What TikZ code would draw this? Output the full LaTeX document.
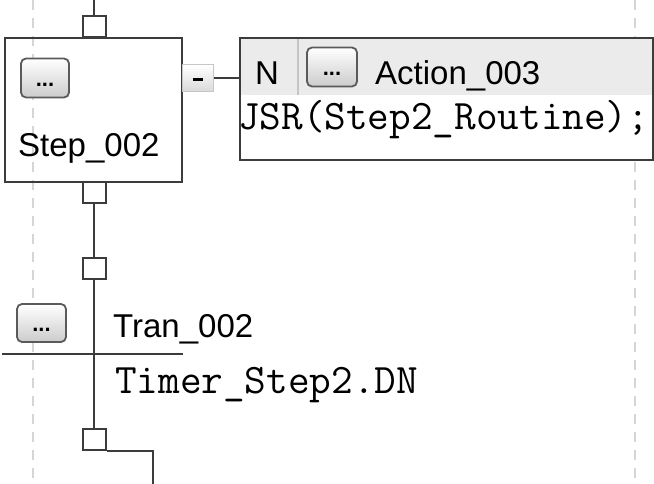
\documentclass[tikz,border=0pt]{standalone}
\usepackage{fontspec}
\setmainfont{Liberation Sans}
\usetikzlibrary{positioning}
\definecolor{sfcInk}{HTML}{3C3C3C}
\definecolor{sfcGuide}{HTML}{D6D6D6}
\definecolor{sfcHead}{HTML}{EBEBEB}
\definecolor{sfcRim}{HTML}{5A5A5A}
\tikzset{
  wire/.style={draw=sfcInk,line width=2pt},
  pin/.style={draw=sfcInk,line width=2pt,fill=white,minimum width=23pt,minimum height=21pt,inner sep=0pt},
  stepbox/.style={draw=sfcInk,line width=2pt,minimum width=177pt,minimum height=144pt,inner sep=0pt},
  actbox/.style={draw=sfcInk,line width=2pt,fill=white,minimum width=413pt,minimum height=122pt,inner sep=0pt,
                 path picture={\fill[sfcHead] (path picture bounding box.north west) rectangle
                   ([yshift=-57pt]path picture bounding box.north east);}},
  btn/.style={draw=sfcRim,line width=1.8pt,rounded corners=5pt,top color=white,bottom color=gray!40,
              minimum width=48pt,minimum height=39pt,inner sep=0pt,text height=0pt,text depth=0pt,
              font=\bfseries\fontsize{22}{22}\selectfont},
  minusbtn/.style={draw=gray!45,line width=1pt,top color=white,bottom color=gray!30,
                   minimum width=31pt,minimum height=27pt,inner sep=0pt},
  lbl/.style={font=\fontsize{33}{36}\selectfont,inner sep=0pt,anchor=base west},
  code/.style={font=\ttfamily\fontsize{42}{44}\selectfont,inner sep=0pt,anchor=base west},
  guide/.style={draw=sfcGuide,line width=1.5pt,dash pattern=on 10pt off 8pt},
}
\newcommand{\btndots}{\raisebox{-9pt}{...}}
\begin{document}
\begin{tikzpicture}[x=1pt,y=-1pt]
    \useasboundingbox (0,0) rectangle (654,484);
    % --- grid guides
    \coordinate (gLtop) at (33,0);   \coordinate (gLbot) at (33,484);
    \coordinate (gRtop) at (635,0);  \coordinate (gRbot) at (635,484);
    \draw[guide] (gLtop) -- (gLbot);
    \draw[guide] (gRtop) -- (gRbot);
    % --- step
    \coordinate (prev) at (94,0);
    \node[pin]     at (94,26.5)  (pinA) {};
    \node[stepbox] at (93.5,110) (step) {};
    \node[btn]     at (45,78)    (stepbtn) {\btndots};
    \node[lbl]     at (18,157)   (stepname) {Step\_002};
    \node[pin]     at (94,192.5) (pinB) {};
    % --- action
    \node[minusbtn] at (197.5,78.5) (minus) {\rule[-6pt]{10pt}{3pt}};
    \node[actbox]  at (446.5,99) (act) {};
    \draw[sfcGuide!80!gray,line width=1.5pt] (298,39) -- (298,95);
    \node[lbl]     at (255,85)   (qual) {N};
    \node[btn,minimum width=50pt] at (332,67) (actbtn) {\btndots};
    \node[lbl]     at (375,85)   (actname) {Action\_003};
    \node[code]    at (238,130)  (actcode) {JSR(Step2\_Routine);};
    % --- transition
    \node[pin]     at (94,268.5) (pinC) {};
    \node[btn,minimum width=49pt,minimum height=38pt] at (41.5,323) (tranbtn) {\btndots};
    \node[lbl]     at (113,337)  (tranname) {Tran\_002};
    \coordinate (tran) at (94,354);
    \node[code]    at (115,393)  (trancode) {Timer\_Step2.DN};
    \node[pin]     at (94,439.5) (pinD) {};
    \coordinate (next) at (153,484);

    \draw[wire] (prev) -- (pinA);
    \draw[wire] (pinB) -- (pinC);
    \draw[wire] (pinC) -- (pinD);
    \draw[wire] ([xshift=-92pt]tran) -- ([xshift=89pt]tran);
    \draw[wire] (minus.east) -- (minus.east -| act.west);
    \draw[wire] (pinD.south east) -| (next);
\end{tikzpicture}
\end{document}
